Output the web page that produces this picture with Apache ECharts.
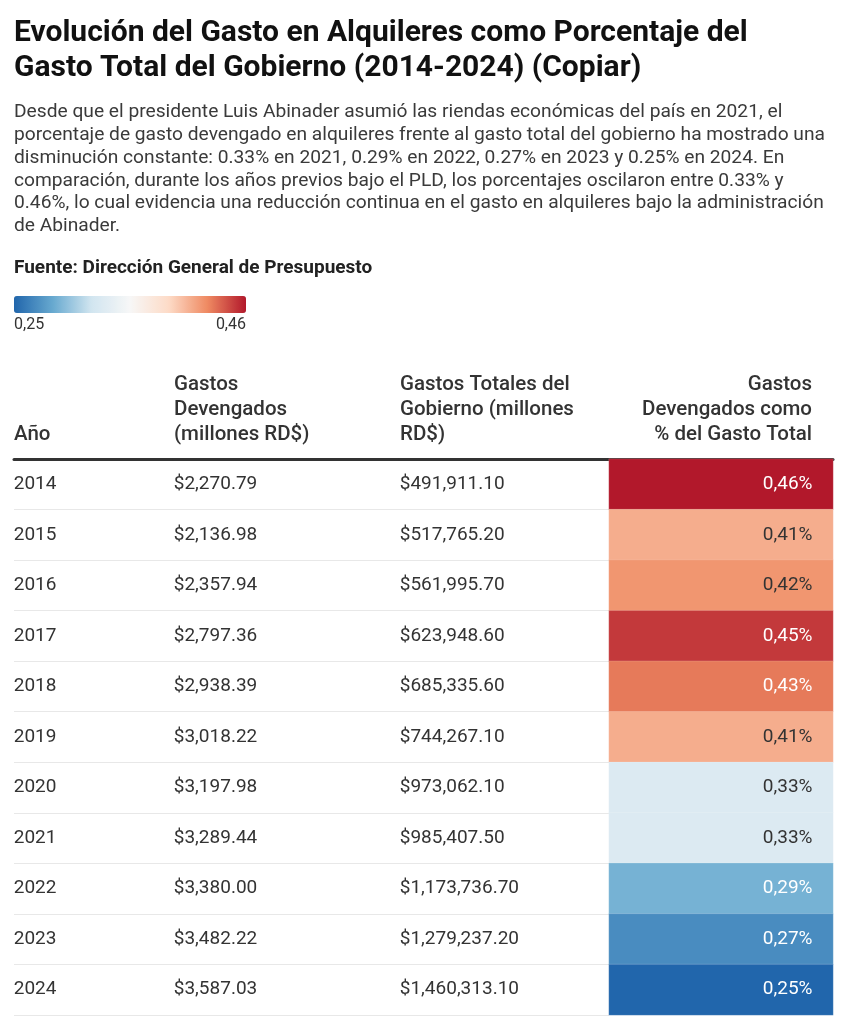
<!DOCTYPE html>
<html lang="es">
<head>
<meta charset="utf-8">
<title>Gasto en Alquileres</title>
<style>
  * { margin: 0; padding: 0; }
  html, body { background: #fff; }
  #chart-container { width: 848px; height: 1024px; }
</style>
</head>
<body>
<div id="chart-container"></div>
<script src="https://cdn.jsdelivr.net/npm/echarts@6/dist/echarts.min.js"></script>
<script>
  // datos de la tabla
  var years = ['2014', '2015', '2016', '2017', '2018', '2019', '2020', '2021', '2022', '2023', '2024'];
  var devengados = ['$2,270.79', '$2,136.98', '$2,357.94', '$2,797.36', '$2,938.39', '$3,018.22',
    '$3,197.98', '$3,289.44', '$3,380.00', '$3,482.22', '$3,587.03'];
  var totales = ['$491,911.10', '$517,765.20', '$561,995.70', '$623,948.60', '$685,335.60', '$744,267.10',
    '$973,062.10', '$985,407.50', '$1,173,736.70', '$1,279,237.20', '$1,460,313.10'];
  var porcentaje = [0.46, 0.41, 0.42, 0.45, 0.43, 0.41, 0.33, 0.33, 0.29, 0.27, 0.25];
  var headers = ['Año', 'Gastos\nDevengados\n(millones RD$)', 'Gastos Totales del\nGobierno (millones\nRD$)',
    'Gastos\nDevengados como\n% del Gasto Total'];
  var legendTicks = ['0,25', '0,46'];
  var scaleMin = 0.25, scaleMax = 0.46;

  var FONT = 'Roboto, "Noto Sans", sans-serif';
  var dom = document.getElementById('chart-container');
  var myChart = echarts.init(dom, null, { renderer: 'canvas' });

  // columnas: [left, width]
  var cols = [[14, 160], [174, 226], [400, 209], [609, 224]];
  var gridTop = 459, gridBottom = 9;

  var grids = [], xAxes = [], yAxes = [], series = [];
  cols.forEach(function (c, i) {
    grids.push({ left: c[0], width: c[1], top: gridTop, bottom: gridBottom });
    xAxes.push({
      gridIndex: i, type: 'category', data: [headers[i]], position: 'top',
      axisLine: { show: true, lineStyle: { color: '#333', width: 3 } },
      axisTick: { show: false }, axisLabel: { show: false }, splitLine: { show: false }
    });
    yAxes.push({
      gridIndex: i, type: 'category', data: years, inverse: true,
      axisLine: { show: false }, axisTick: { show: false }, axisLabel: { show: false },
      splitLine: { show: i < 3, lineStyle: { color: '#e8e8e8', width: 1 } }
    });
  });

  var textCols = [years, devengados, totales];
  textCols.forEach(function (arr, i) {
    series.push({
      type: 'heatmap', xAxisIndex: i, yAxisIndex: i,
      data: arr.map(function (t, j) { return [0, j, 0]; }),
      itemStyle: { color: 'rgba(0,0,0,0)' },
      label: {
        show: true, position: 'insideLeft', distance: 0,
        fontFamily: FONT, fontSize: 19, color: '#333',
        formatter: function (p) { return arr[p.data[1]]; }
      },
      emphasis: { disabled: true }, silent: true
    });
  });

  series.push({
    type: 'heatmap', xAxisIndex: 3, yAxisIndex: 3,
    data: porcentaje.map(function (v, j) {
      var dark = v >= 0.43 || v <= 0.29;
      return { value: [0, j, v], label: { color: dark ? '#fff' : '#333' } };
    }),
    itemStyle: { borderColor: 'rgba(255,255,255,0.3)', borderWidth: 0.5 },
    label: {
      show: true, position: 'insideRight', distance: 21,
      fontFamily: FONT, fontSize: 19,
      formatter: function (p) { return p.data.value[2].toFixed(2).replace('.', ',') + '%'; }
    },
    emphasis: { disabled: true }, silent: true
  });

  // encabezados de columna
  var headerGraphics = headers.map(function (h, i) {
    var right = i === 3;
    return {
      type: 'text', x: right ? 812 : cols[i][0], y: 447,
      style: {
        text: h, fontFamily: FONT, fontSize: 20.5, fontWeight: 500, lineHeight: 25,
        fill: '#333', align: right ? 'right' : 'left', verticalAlign: 'bottom'
      }
    };
  });

  var option = {
    backgroundColor: '#fff',
    textStyle: { fontFamily: FONT },
    title: [{
      text: 'Evolución del Gasto en Alquileres como Porcentaje del\nGasto Total del Gobierno (2014-2024) (Copiar)',
      left: 14, top: 16, padding: 0,
      textStyle: { fontFamily: FONT, fontSize: 30, fontWeight: 'bold', lineHeight: 35, color: '#111' }
    }, {
      text: 'Desde que el presidente Luis Abinader asumió las riendas económicas del país en 2021, el\n' +
        'porcentaje de gasto devengado en alquileres frente al gasto total del gobierno ha mostrado una\n' +
        'disminución constante: 0.33% en 2021, 0.29% en 2022, 0.27% en 2023 y 0.25% en 2024. En\n' +
        'comparación, durante los años previos bajo el PLD, los porcentajes oscilaron entre 0.33% y\n' +
        '0.46%, lo cual evidencia una reducción continua en el gasto en alquileres bajo la administración\n' +
        'de Abinader.',
      left: 14, top: 101, padding: 0,
      textStyle: { fontFamily: FONT, fontSize: 19.2, fontWeight: 'normal', lineHeight: 22.8, color: '#3a3a3a' }
    }, {
      text: 'Fuente: Dirección General de Presupuesto',
      left: 14, top: 259, padding: 0,
      textStyle: { fontFamily: FONT, fontSize: 19, fontWeight: 'bold', color: '#222' }
    }],
    visualMap: {
      type: 'continuous', seriesIndex: 3, dimension: 2,
      min: scaleMin, max: scaleMax, calculable: false, realtime: false,
      orient: 'horizontal', left: 14, top: 296, padding: 0,
      itemWidth: 17, itemHeight: 232, text: null, showLabel: false,
      inRange: { color: ['#2166ac', '#67a9cf', '#d1e5f0', '#f7f7f7', '#fddbc7', '#ef8a62', '#b2182b'] }
    },
    grid: grids,
    xAxis: xAxes,
    yAxis: yAxes,
    series: series,
    graphic: headerGraphics.concat([
      {
        type: 'text', left: 14, top: 317,
        style: { text: legendTicks[0], fontFamily: FONT, fontSize: 16, fill: '#333' }
      },
      {
        type: 'text', right: 848 - 246, top: 317,
        style: { text: legendTicks[1], fontFamily: FONT, fontSize: 16, fill: '#333', align: 'right' }
      }
    ])
  };

  myChart.setOption(option);
  window.addEventListener('resize', myChart.resize);
</script>
</body>
</html>
